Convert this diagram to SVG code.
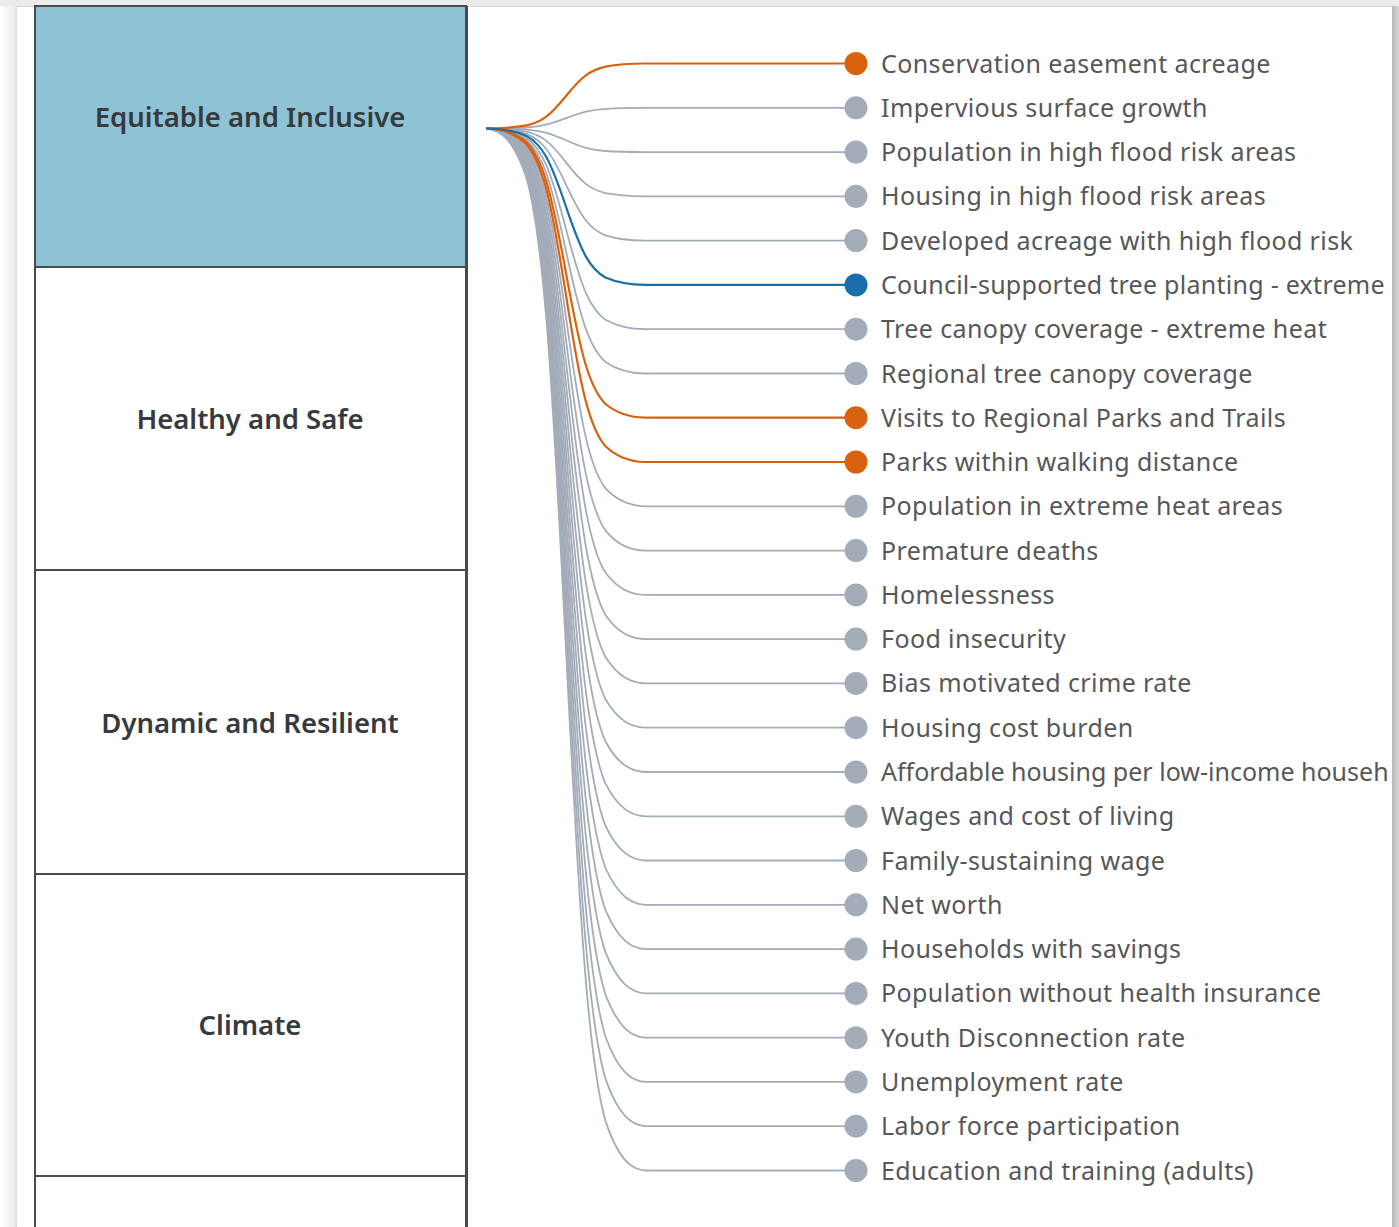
<svg xmlns="http://www.w3.org/2000/svg" width="1399" height="1227" viewBox="0 0 1399 1227">
<defs>
<style>
.conn{fill:none;stroke-width:1.8;stroke-linecap:round;stroke-linejoin:round}
.cg{stroke:#a3acb9}
.co{stroke:#d9620f;stroke-width:2.2}
.cb{stroke:#1a6fab;stroke-width:2.2}
.dg{fill:#a3acb9}
.do{fill:#d9620f}
.db{fill:#1a6fab}
.lbl{font-family:"Noto Sans","Open Sans","Liberation Sans",sans-serif;font-size:25px;letter-spacing:0.4px;fill:#575757}
.cat{font-family:"Noto Sans","Open Sans","Liberation Sans",sans-serif;font-size:27.5px;font-weight:600;fill:#363a3e;text-anchor:middle}
.box{stroke:#4a4a4a;stroke-width:2}
</style>
<linearGradient id="lshade" x1="0" y1="0" x2="1" y2="0">
<stop offset="0" stop-color="#ffffff"/>
<stop offset="0.8" stop-color="#eeeeee"/>
<stop offset="1" stop-color="#dcdcdc"/>
</linearGradient>
<linearGradient id="rshade" x1="0" y1="0" x2="1" y2="0">
<stop offset="0" stop-color="#b5b5b5"/>
<stop offset="1" stop-color="#d8d8d8"/>
</linearGradient>
</defs>

<rect x="0" y="0" width="1399" height="1227" fill="#ffffff"/>
<rect x="0" y="0" width="17" height="1227" fill="url(#lshade)"/>
<rect x="0" y="0" width="1399" height="6" fill="#ececec"/>
<line x1="17" y1="6.5" x2="1393" y2="6.5" stroke="#d6d6d6" stroke-width="1"/>
<rect x="1392" y="6" width="7" height="1221" fill="url(#rshade)"/>

<g id="categories">
<g id="cat-equitable">
<rect class="box" x="35" y="6" width="431" height="261" fill="#8dc3d4"/>
<text class="cat" x="250" y="127">Equitable and Inclusive</text>
</g>
<g id="cat-healthy">
<rect class="box" x="35" y="267" width="431" height="303" fill="#ffffff"/>
<text class="cat" x="250" y="429">Healthy and Safe</text>
</g>
<g id="cat-dynamic">
<rect class="box" x="35" y="570" width="431" height="304" fill="#ffffff"/>
<text class="cat" x="250" y="733">Dynamic and Resilient</text>
</g>
<g id="cat-climate">
<rect class="box" x="35" y="874" width="431" height="302" fill="#ffffff"/>
<text class="cat" x="250" y="1035">Climate</text>
</g>
<g id="cat-blank">
<rect class="box" x="35" y="1176" width="431" height="60" fill="#ffffff"/>
</g>
<line x1="466.5" y1="6" x2="466.5" y2="1227" stroke="#4a4a4a" stroke-width="3"/>
</g>

<g id="connectors">
<path class="conn cg" d="M487,128.5 C500.2,128.5 513.3,128.3 526.5,127.5 C533.1,127.1 539.7,126.3 546.3,124.7 S559.4,120.7 566,118.2 S579.2,113.1 585.8,111.6 S598.9,109.3 605.5,108.8 C618.7,108 631.8,107.8 645,107.8 H856"/>
<path class="conn cg" d="M487,128.5 C500.2,128.5 513.3,128.7 526.5,129.6 C533.1,130.2 539.7,131.1 546.3,132.8 S559.4,137.4 566,140.3 S579.2,146 585.8,147.8 S598.9,150.5 605.5,151 C618.7,151.9 631.8,152.1 645,152.1 H856"/>
<path class="conn cg" d="M487,128.5 C500.2,128.6 513.3,129.2 526.5,131.7 C533.1,133.3 539.7,135.8 546.3,140.9 S559.4,153.9 566,162.4 S579.2,178.9 585.8,183.9 S598.9,191.6 605.5,193.1 C618.7,195.6 631.8,196.2 645,196.3 H856"/>
<path class="conn cg" d="M487,128.5 C500.2,128.6 513.3,129.6 526.5,133.8 C533.1,136.4 539.7,140.6 546.3,149 S559.4,170.5 566,184.6 S579.2,211.8 585.8,220.2 S598.9,232.8 605.5,235.3 C618.7,239.5 631.8,240.5 645,240.6 H856"/>
<path class="conn cg" d="M487,128.5 C500.2,128.7 513.3,130.5 526.5,138 C533.1,142.6 539.7,150.2 546.3,165.1 S559.4,203.8 566,228.9 S579.2,277.6 585.8,292.6 S598.9,315.2 605.5,319.7 C618.7,327.2 631.8,329 645,329.2 H856"/>
<path class="conn cg" d="M487,128.5 C500.2,128.8 513.3,131 526.5,140.1 C533.1,145.7 539.7,154.9 546.3,173.2 S559.4,220.4 566,251 S579.2,310.5 585.8,328.8 S598.9,356.4 605.5,361.9 C618.7,371.1 631.8,373.3 645,373.5 H856"/>
<path class="conn cg" d="M487,128.5 C500.2,128.9 513.3,132.3 526.5,146.4 C533.1,155 539.7,169.3 546.3,197.4 S559.4,270.2 566,317.4 S579.2,409.2 585.8,437.4 S598.9,479.9 605.5,488.4 C618.7,502.5 631.8,505.9 645,506.3 H856"/>
<path class="conn cg" d="M487,128.5 C500.2,128.9 513.3,132.7 526.5,148.5 C533.1,158.1 539.7,174 546.3,205.5 S559.4,286.8 566,339.6 S579.2,442.1 585.8,473.6 S598.9,521.1 605.5,530.6 C618.7,546.4 631.8,550.2 645,550.6 H856"/>
<path class="conn cg" d="M487,128.5 C500.2,129 513.3,133.2 526.5,150.6 C533.1,161.2 539.7,178.8 546.3,213.6 S559.4,303.4 566,361.7 S579.2,475 585.8,509.8 S598.9,562.3 605.5,572.8 C618.7,590.2 631.8,594.4 645,594.9 H856"/>
<path class="conn cg" d="M487,128.5 C500.2,129 513.3,133.6 526.5,152.7 C533.1,164.2 539.7,183.6 546.3,221.6 S559.4,320 566,383.8 S579.2,507.9 585.8,546 S598.9,603.4 605.5,614.9 C618.7,634 631.8,638.6 645,639.1 H856"/>
<path class="conn cg" d="M487,128.5 C500.2,129.1 513.3,134.1 526.5,154.8 C533.1,167.3 539.7,188.4 546.3,229.7 S559.4,336.6 566,406 S579.2,540.8 585.8,582.2 S598.9,644.6 605.5,657.1 C618.7,677.9 631.8,682.8 645,683.4 H856"/>
<path class="conn cg" d="M487,128.5 C500.2,129.1 513.3,134.5 526.5,156.9 C533.1,170.4 539.7,193.2 546.3,237.8 S559.4,353.2 566,428.1 S579.2,573.7 585.8,618.4 S598.9,685.8 605.5,699.3 C618.7,721.7 631.8,727.1 645,727.7 H856"/>
<path class="conn cg" d="M487,128.5 C500.2,129.1 513.3,134.9 526.5,159 C533.1,173.6 539.7,197.9 546.3,245.9 S559.4,369.8 566,450.3 S579.2,606.6 585.8,654.6 S598.9,727 605.5,741.5 C618.7,765.6 631.8,771.4 645,772 H856"/>
<path class="conn cg" d="M487,128.5 C500.2,129.2 513.3,135.4 526.5,161.1 C533.1,176.7 539.7,202.7 546.3,254 S559.4,386.4 566,472.4 S579.2,639.5 585.8,690.9 S598.9,768.2 605.5,783.7 C618.7,809.4 631.8,815.6 645,816.3 H856"/>
<path class="conn cg" d="M487,128.5 C500.2,129.2 513.3,135.8 526.5,163.2 C533.1,179.7 539.7,207.5 546.3,262 S559.4,403 566,494.5 S579.2,672.4 585.8,727 S598.9,809.3 605.5,825.8 C618.7,853.2 631.8,859.8 645,860.5 H856"/>
<path class="conn cg" d="M487,128.5 C500.2,129.3 513.3,136.3 526.5,165.3 C533.1,182.8 539.7,212.3 546.3,270.1 S559.4,419.6 566,516.7 S579.2,705.3 585.8,763.2 S598.9,850.5 605.5,868 C618.7,897 631.8,904 645,904.8 H856"/>
<path class="conn cg" d="M487,128.5 C500.2,129.3 513.3,136.7 526.5,167.4 C533.1,185.9 539.7,217 546.3,278.2 S559.4,436.2 566,538.8 S579.2,738.2 585.8,799.4 S598.9,891.7 605.5,910.2 C618.7,940.9 631.8,948.3 645,949.1 H856"/>
<path class="conn cg" d="M487,128.5 C500.2,129.4 513.3,137.2 526.5,169.5 C533.1,189 539.7,221.8 546.3,286.3 S559.4,452.8 566,561 S579.2,771.1 585.8,835.6 S598.9,932.9 605.5,952.4 C618.7,984.8 631.8,992.5 645,993.4 H856"/>
<path class="conn cg" d="M487,128.5 C500.2,129.4 513.3,137.6 526.5,171.6 C533.1,192.1 539.7,226.6 546.3,294.3 S559.4,469.5 566,583.1 S579.2,804 585.8,871.9 S598.9,974.1 605.5,994.6 C618.7,1028.6 631.8,1036.8 645,1037.7 H856"/>
<path class="conn cg" d="M487,128.5 C500.2,129.5 513.3,138 526.5,173.7 C533.1,195.2 539.7,231.4 546.3,302.4 S559.4,486 566,605.2 S579.2,836.9 585.8,908 S598.9,1015.2 605.5,1036.7 C618.7,1072.4 631.8,1081 645,1081.9 H856"/>
<path class="conn cg" d="M487,128.5 C500.2,129.5 513.3,138.5 526.5,175.8 C533.1,198.3 539.7,236.2 546.3,310.5 S559.4,502.6 566,627.4 S579.2,869.8 585.8,944.2 S598.9,1056.4 605.5,1078.9 C618.7,1116.2 631.8,1125.2 645,1126.2 H856"/>
<path class="conn cg" d="M487,128.5 C500.2,129.5 513.3,138.9 526.5,177.9 C533.1,201.4 539.7,240.9 546.3,318.6 S559.4,519.3 566,649.5 S579.2,902.7 585.8,980.4 S598.9,1097.6 605.5,1121.1 C618.7,1160.1 631.8,1169.5 645,1170.5 H856"/>
<path class="conn co" d="M487,128.5 C500.2,128.4 513.3,127.9 526.5,125.4 C533.1,124 539.7,121.5 546.3,116.6 S559.4,104.1 566,96 S579.2,80.2 585.8,75.4 S598.9,68.1 605.5,66.6 C618.7,64.2 631.8,63.6 645,63.5 H856"/>
<path class="conn co" d="M487,128.5 C500.2,128.8 513.3,131.4 526.5,142.2 C533.1,148.7 539.7,159.7 546.3,181.3 S559.4,237 566,273.1 S579.2,343.4 585.8,365 S598.9,397.5 605.5,404 C618.7,414.8 631.8,417.4 645,417.7 H856"/>
<path class="conn co" d="M487,128.5 C500.2,128.8 513.3,131.8 526.5,144.3 C533.1,151.9 539.7,164.5 546.3,189.3 S559.4,253.6 566,295.3 S579.2,376.3 585.8,401.2 S598.9,438.7 605.5,446.2 C618.7,458.7 631.8,461.7 645,462 H856"/>
<path class="conn cb" d="M487,128.5 C500.2,128.7 513.3,130.1 526.5,135.9 C533.1,139.5 539.7,145.4 546.3,157 S559.4,187.2 566,206.7 S579.2,244.7 585.8,256.4 S598.9,274 605.5,277.5 C618.7,283.3 631.8,284.7 645,284.9 H856"/>
</g>

<g id="items">
<g id="item-0"><circle class="do" cx="856" cy="63.5" r="11.5"/><text class="lbl" x="881" y="72.5">Conservation easement acreage</text></g>
<g id="item-1"><circle class="dg" cx="856" cy="107.8" r="11.5"/><text class="lbl" x="881" y="116.8">Impervious surface growth</text></g>
<g id="item-2"><circle class="dg" cx="856" cy="152.1" r="11.5"/><text class="lbl" x="881" y="161.1">Population in high flood risk areas</text></g>
<g id="item-3"><circle class="dg" cx="856" cy="196.3" r="11.5"/><text class="lbl" x="881" y="205.3">Housing in high flood risk areas</text></g>
<g id="item-4"><circle class="dg" cx="856" cy="240.6" r="11.5"/><text class="lbl" x="881" y="249.6">Developed acreage with high flood risk</text></g>
<g id="item-5"><circle class="db" cx="856" cy="284.9" r="11.5"/><text class="lbl" x="881" y="293.9" textLength="504" lengthAdjust="spacing">Council-supported tree planting - extreme</text></g>
<g id="item-6"><circle class="dg" cx="856" cy="329.2" r="11.5"/><text class="lbl" x="881" y="338.2">Tree canopy coverage - extreme heat</text></g>
<g id="item-7"><circle class="dg" cx="856" cy="373.5" r="11.5"/><text class="lbl" x="881" y="382.5">Regional tree canopy coverage</text></g>
<g id="item-8"><circle class="do" cx="856" cy="417.7" r="11.5"/><text class="lbl" x="881" y="426.7">Visits to Regional Parks and Trails</text></g>
<g id="item-9"><circle class="do" cx="856" cy="462" r="11.5"/><text class="lbl" x="881" y="471">Parks within walking distance</text></g>
<g id="item-10"><circle class="dg" cx="856" cy="506.3" r="11.5"/><text class="lbl" x="881" y="515.3">Population in extreme heat areas</text></g>
<g id="item-11"><circle class="dg" cx="856" cy="550.6" r="11.5"/><text class="lbl" x="881" y="559.6">Premature deaths</text></g>
<g id="item-12"><circle class="dg" cx="856" cy="594.9" r="11.5"/><text class="lbl" x="881" y="603.9">Homelessness</text></g>
<g id="item-13"><circle class="dg" cx="856" cy="639.1" r="11.5"/><text class="lbl" x="881" y="648.1">Food insecurity</text></g>
<g id="item-14"><circle class="dg" cx="856" cy="683.4" r="11.5"/><text class="lbl" x="881" y="692.4">Bias motivated crime rate</text></g>
<g id="item-15"><circle class="dg" cx="856" cy="727.7" r="11.5"/><text class="lbl" x="881" y="736.7">Housing cost burden</text></g>
<g id="item-16"><circle class="dg" cx="856" cy="772" r="11.5"/><text class="lbl" x="881" y="781" textLength="508" lengthAdjust="spacing">Affordable housing per low-income househ</text></g>
<g id="item-17"><circle class="dg" cx="856" cy="816.3" r="11.5"/><text class="lbl" x="881" y="825.3">Wages and cost of living</text></g>
<g id="item-18"><circle class="dg" cx="856" cy="860.5" r="11.5"/><text class="lbl" x="881" y="869.5">Family-sustaining wage</text></g>
<g id="item-19"><circle class="dg" cx="856" cy="904.8" r="11.5"/><text class="lbl" x="881" y="913.8">Net worth</text></g>
<g id="item-20"><circle class="dg" cx="856" cy="949.1" r="11.5"/><text class="lbl" x="881" y="958.1">Households with savings</text></g>
<g id="item-21"><circle class="dg" cx="856" cy="993.4" r="11.5"/><text class="lbl" x="881" y="1002.4">Population without health insurance</text></g>
<g id="item-22"><circle class="dg" cx="856" cy="1037.7" r="11.5"/><text class="lbl" x="881" y="1046.7">Youth Disconnection rate</text></g>
<g id="item-23"><circle class="dg" cx="856" cy="1081.9" r="11.5"/><text class="lbl" x="881" y="1090.9">Unemployment rate</text></g>
<g id="item-24"><circle class="dg" cx="856" cy="1126.2" r="11.5"/><text class="lbl" x="881" y="1135.2">Labor force participation</text></g>
<g id="item-25"><circle class="dg" cx="856" cy="1170.5" r="11.5"/><text class="lbl" x="881" y="1179.5">Education and training (adults)</text></g>
</g>
</svg>
